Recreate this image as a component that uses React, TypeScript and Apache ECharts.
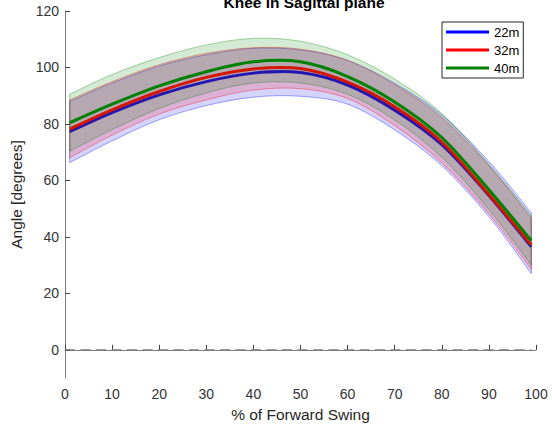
import React, { useEffect, useRef } from 'react';
import * as echarts from 'echarts';

const xPoints = [1, 10, 20, 30, 40, 50, 60, 70, 80, 90, 99];

const mean22 = [77.3, 84, 90.3, 95, 98, 98.2, 93.8, 84.9, 72.7, 54.7, 36.5];
const upper22 = [88, 94.5, 100.5, 104.5, 106.8, 106.2, 102.5, 94.4, 83.2, 66.7, 48.5];
const lower22 = [66.3, 74, 81.5, 86.5, 89.5, 89.8, 87, 77.9, 65.2, 47.2, 27];

const mean32 = [78.2, 85, 91.5, 96.5, 99.5, 99.6, 94.8, 86.1, 73.6, 55, 37.2];
const upper32 = [88.5, 95, 101, 105, 107, 106.5, 102.5, 93.9, 82.2, 65.2, 46.5];
const lower32 = [68, 76, 83.5, 88.5, 92, 92.5, 89, 79.4, 66.2, 48.2, 28.5];

const mean40 = [80.4, 87, 93.5, 98.5, 102, 102, 96.8, 87.8, 75.2, 56.7, 38.7];
const upper40 = [90.5, 97.5, 103.5, 108, 110.3, 109.3, 104.5, 95.9, 83.7, 65.7, 47.5];
const lower40 = [70.3, 78, 85.5, 91, 94.5, 94.5, 90.5, 81.4, 68.2, 49.7, 30];

const seriesNames = ['22m', '32m', '40m'];
const yTicks = [0, 20, 40, 60, 80, 100, 120];
const zeroLineX = [0, 99];
const zeroLineY = [0, 0];

const FONT = '"Liberation Sans", Arial, Helvetica, sans-serif';

function pairs(xs: number[], ys: number[]) {
  return xs.map((x, i) => [x, ys[i]]);
}

// Catmull-Rom spline through pixel points, as SVG path segments (no leading M)
function splineSegments(pts: number[][]): string {
  let d = '';
  const n = pts.length;
  for (let i = 0; i < n - 1; i++) {
    const p0 = pts[Math.max(0, i - 1)];
    const p1 = pts[i];
    const p2 = pts[i + 1];
    const p3 = pts[Math.min(n - 1, i + 2)];
    const c1x = p1[0] + (p2[0] - p0[0]) / 6;
    const c1y = p1[1] + (p2[1] - p0[1]) / 6;
    const c2x = p2[0] - (p3[0] - p1[0]) / 6;
    const c2y = p2[1] - (p3[1] - p1[1]) / 6;
    d += ` C ${c1x} ${c1y} ${c2x} ${c2y} ${p2[0]} ${p2[1]}`;
  }
  return d;
}

function bandSeries(key: string, lower: number[], upper: number[], rgb: string) {
  const edge = `rgba(${rgb},0.35)`;
  const fill = `rgba(${rgb},0.17)`;
  return {
    type: 'custom',
    name: key + ' band',
    silent: true,
    data: [[xPoints[0], lower[0]]],
    renderItem: (_params: any, api: any) => {
      const up = xPoints.map((x, i) => api.coord([x, upper[i]]));
      const lo = xPoints.map((x, i) => api.coord([x, lower[i]])).reverse();
      const d =
        `M ${up[0][0]} ${up[0][1]}` +
        splineSegments(up) +
        ` L ${lo[0][0]} ${lo[0][1]}` +
        splineSegments(lo) +
        ' Z';
      return {
        type: 'path',
        shape: { pathData: d },
        style: { fill, stroke: edge, lineWidth: 1 },
      };
    },
  };
}

function meanSeries(name: string, mean: number[], color: string) {
  return {
    type: 'custom',
    name,
    silent: true,
    itemStyle: { color },
    data: [[xPoints[0], mean[0]]],
    renderItem: (_params: any, api: any) => {
      const pts = xPoints.map((x, i) => api.coord([x, mean[i]]));
      const d = `M ${pts[0][0]} ${pts[0][1]}` + splineSegments(pts);
      return {
        type: 'path',
        shape: { pathData: d },
        style: { fill: 'none', stroke: color, lineWidth: 3 },
      };
    },
  };
}

export default function App() {
  const ref = useRef<HTMLDivElement>(null);
  useEffect(() => {
    if (!ref.current) return;
    const chart = echarts.init(ref.current, undefined, { renderer: 'svg' });
    const option: any = {
      animation: false,
      backgroundColor: '#ffffff',
      title: {
        text: 'Knee in Sagittal plane',
        left: 299,
        textAlign: 'center',
        top: -11,
        textStyle: { fontFamily: FONT, fontSize: 15.5, fontWeight: 'bold', color: '#000' },
      },
      legend: {
        data: seriesNames,
        orient: 'vertical',
        left: 442,
        top: 22,
        icon: 'rect',
        itemWidth: 43,
        itemHeight: 3,
        itemGap: 4,
        padding: [3, 4, 3, 4],
        borderColor: '#262626',
        borderWidth: 1,
        backgroundColor: '#fff',
        textStyle: { fontFamily: FONT, fontSize: 13, color: '#000', lineHeight: 14 },
      },
      grid: { left: 65, right: 16, top: 11, bottom: 47, containLabel: false },
      xAxis: {
        type: 'value',
        min: 0,
        max: 100,
        interval: 10,
        name: '% of Forward Swing',
        nameLocation: 'middle',
        nameGap: 24,
        nameTextStyle: { fontFamily: FONT, fontSize: 15.5, color: '#262626' },
        axisLine: { show: true, lineStyle: { color: '#808080', width: 1 } },
        axisTick: { show: true, inside: true, length: 5, lineStyle: { color: '#404040' } },
        axisLabel: { fontFamily: FONT, fontSize: 14, color: '#333', margin: 9 },
        splitLine: { show: false },
      },
      yAxis: {
        type: 'value',
        min: -10,
        max: 120,
        name: 'Angle [degrees]',
        nameLocation: 'middle',
        nameGap: 25,
        nameTextStyle: { fontFamily: FONT, fontSize: 15.5, color: '#262626' },
        axisLine: { show: true, lineStyle: { color: '#808080', width: 1 } },
        axisTick: { show: true, inside: true, length: 5, customValues: yTicks, lineStyle: { color: '#404040' } },
        axisLabel: { fontFamily: FONT, fontSize: 14, color: '#333', margin: 6, customValues: yTicks },
        splitLine: { show: false },
      },
      series: [
        bandSeries('22m', lower22, upper22, '0,0,255'),
        meanSeries('22m', mean22, '#0000ff'),
        bandSeries('32m', lower32, upper32, '255,0,0'),
        meanSeries('32m', mean32, '#ff0000'),
        bandSeries('40m', lower40, upper40, '0,128,0'),
        meanSeries('40m', mean40, '#008000'),
        {
          type: 'line',
          name: 'zero',
          data: pairs(zeroLineX, zeroLineY),
          symbol: 'none',
          silent: true,
          lineStyle: { color: '#7a7a7a', width: 1.2, type: [10, 5.5] },
        },
      ],
    };
    chart.setOption(option);
    return () => chart.dispose();
  }, []);
  return <div ref={ref} style={{ position: 'fixed', left: 0, top: 0, width: 552, height: 427 }} />;
}
